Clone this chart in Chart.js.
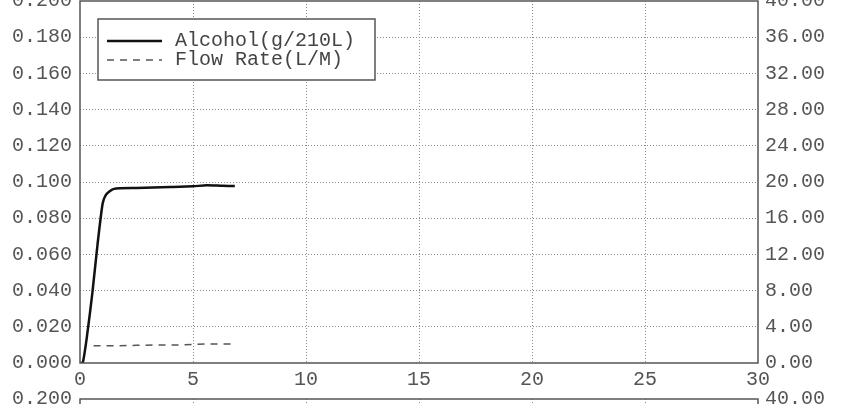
<!DOCTYPE html>
<html>
<head>
<meta charset="utf-8">
<script src="https://cdn.jsdelivr.net/npm/chart.js@4.4.1/dist/chart.umd.min.js"></script>
<style>
    html, body { margin: 0; padding: 0; background: #fff; overflow: hidden; width: 843px; height: 404px; }
    .box { position: absolute; left: 0; width: 843px; }
    #top-box { top: -19px; height: 412px; }
    #bottom-box { top: 379px; height: 420px; }
</style>
</head>
<body>
<div class="box" id="top-box"><canvas id="breath-chart"></canvas></div>
<div class="box" id="bottom-box"><canvas id="breath-chart-2"></canvas></div>

<script>
// Data
var alcoholTime = [0, 0.12, 0.3, 0.55, 0.78, 1.0, 1.15, 1.5, 2.5, 4.0, 5.0, 5.6, 6.3, 6.85];
var alcoholValues = [0, 0, 0.014, 0.039, 0.066, 0.088, 0.093, 0.0962, 0.0967, 0.0972, 0.0976, 0.0982, 0.0979, 0.0978];
var flowTime = [0.6, 1.5, 2.5, 3.5, 4.5, 5.5, 6.75];
var flowValues = [1.9, 1.9, 1.95, 2.0, 2.0, 2.1, 2.1];
var xTicks = [0, 5, 10, 15, 20, 25, 30];
var alcoholTicks = [0, 0.02, 0.04, 0.06, 0.08, 0.1, 0.12, 0.14, 0.16, 0.18, 0.2];
var flowTicks = [0, 4, 8, 12, 16, 20, 24, 28, 32, 36, 40];

var MONO = "'Liberation Mono', 'Courier New', monospace";
var TEXT = "#555";
var GRID = "#8a8a8a";

Chart.defaults.font.family = MONO;
Chart.defaults.font.size = 20;
Chart.defaults.color = TEXT;

function toPoints(xs, ys) {
    return xs.map(function (x, i) { return { x: x, y: ys[i] }; });
}

// plot frame around the chart area
var framePlugin = {
    id: "frame",
    afterDatasetsDraw: function (chart) {
        var a = chart.chartArea, ctx = chart.ctx;
        ctx.save();
        ctx.strokeStyle = "#555";
        ctx.lineWidth = 1.5;
        ctx.strokeRect(a.left, a.top, a.right - a.left, a.bottom - a.top);
        ctx.restore();
    }
};

// boxed legend inside the plot
var boxLegendPlugin = {
    id: "boxLegend",
    afterDraw: function (chart) {
        var sets = chart.data.datasets;
        if (!sets.length) return;
        var a = chart.chartArea, ctx = chart.ctx;
        var x = a.left + 18, y = a.top + 18, w = 277, h = 61;
        ctx.save();
        ctx.fillStyle = "#fff";
        ctx.fillRect(x, y, w, h);
        ctx.strokeStyle = "#555";
        ctx.lineWidth = 1.5;
        ctx.strokeRect(x, y, w, h);
        ctx.font = "20px " + MONO;
        ctx.textBaseline = "middle";
        sets.forEach(function (ds, i) {
            var rowY = y + 22 + i * 19;
            ctx.strokeStyle = ds.borderColor;
            ctx.lineWidth = ds.borderWidth;
            ctx.setLineDash(ds.borderDash || []);
            ctx.beginPath();
            ctx.moveTo(x + 9, rowY);
            ctx.lineTo(x + 64, rowY);
            ctx.stroke();
            ctx.setLineDash([]);
            ctx.fillStyle = "#444";
            ctx.fillText(ds.label, x + 77, rowY);
        });
        ctx.restore();
    }
};

function makeScales() {
    return {
        x: {
            type: "linear",
            min: 0,
            max: 30,
            afterBuildTicks: function (s) { s.ticks = xTicks.map(function (v) { return { value: v }; }); },
            afterFit: function (s) { s.height = 30; },
            ticks: { padding: 5, color: TEXT },
            grid: {
                drawTicks: false,
                color: function (c) { return (c.tick.value === 0 || c.tick.value === 30) ? "rgba(0,0,0,0)" : GRID; }
            },
            border: { display: false, dash: [1, 2] }
        },
        y: {
            type: "linear",
            position: "left",
            min: 0,
            max: 0.2,
            afterBuildTicks: function (s) { s.ticks = alcoholTicks.map(function (v) { return { value: v }; }); },
            afterFit: function (s) { s.width = 80; },
            ticks: {
                padding: 8,
                color: TEXT,
                callback: function (v) { return Number(v).toFixed(3); }
            },
            grid: {
                drawTicks: false,
                color: function (c) { return (c.tick.value === 0 || c.tick.value === 0.2) ? "rgba(0,0,0,0)" : GRID; }
            },
            border: { display: false, dash: [1, 2] }
        },
        y1: {
            type: "linear",
            position: "right",
            min: 0,
            max: 40,
            afterBuildTicks: function (s) { s.ticks = flowTicks.map(function (v) { return { value: v }; }); },
            afterFit: function (s) { s.width = 85; },
            ticks: {
                padding: 7,
                color: TEXT,
                callback: function (v) { return Number(v).toFixed(2); }
            },
            grid: { display: false, drawTicks: false },
            border: { display: false }
        }
    };
}

var ctx1 = document.getElementById("breath-chart").getContext("2d");
var breathChart = new Chart(ctx1, {
    type: "line",
    data: {
        datasets: [{
            label: "Alcohol(g/210L)",
            data: toPoints(alcoholTime, alcoholValues),
            yAxisID: "y",
            borderColor: "#111",
            borderWidth: 2.5,
            pointRadius: 0,
            tension: 0.2,
            fill: false
        },
        {
            label: "Flow Rate(L/M)",
            data: toPoints(flowTime, flowValues),
            yAxisID: "y1",
            borderColor: "#555",
            borderWidth: 1.5,
            borderDash: [7, 6],
            pointRadius: 0,
            tension: 0,
            fill: false
        }
        ]
    },
    options: {
        responsive: true,
        maintainAspectRatio: false,
        animation: false,
        layout: { padding: { top: 20, left: 0, right: 0, bottom: 0 } },
        plugins: { legend: { display: false }, tooltip: { enabled: false } },
        scales: makeScales()
    },
    plugins: [framePlugin, boxLegendPlugin]
});

// second chart below, only its top edge shows in the window
var ctx2 = document.getElementById("breath-chart-2").getContext("2d");
var breathChart2 = new Chart(ctx2, {
    type: "line",
    data: { datasets: [] },
    options: {
        responsive: true,
        maintainAspectRatio: false,
        animation: false,
        layout: { padding: { top: 20, left: 0, right: 0, bottom: 0 } },
        plugins: { legend: { display: false }, tooltip: { enabled: false } },
        scales: makeScales()
    },
    plugins: [framePlugin]
});
</script>
</body>
</html>
